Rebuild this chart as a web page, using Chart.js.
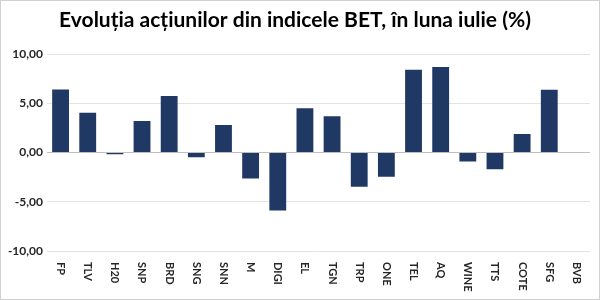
<!DOCTYPE html>
<html>
<head>
<meta charset="utf-8">
<script src="https://cdn.jsdelivr.net/npm/chart.js@4"></script>
<style>
  body { margin: 0; background: #fff; }
  #wrap { width: 600px; height: 300px; }
</style>
</head>
<body>
<div id="wrap"><canvas id="myChart"></canvas></div>
<script>
const categories = ['FP', 'TLV', 'H20', 'SNP', 'BRD', 'SNG', 'SNN', 'M', 'DIGI', 'EL',
    'TGN', 'TRP', 'ONE', 'TEL', 'AQ', 'WINE', 'TTS', 'COTE', 'SFG', 'BVB'];
const changes = [6.40, 4.06, -0.16, 3.20, 5.75, -0.47, 2.80, -2.64, -5.88, 4.50,
    3.69, -3.48, -2.46, 8.42, 8.69, -0.91, -1.69, 1.90, 6.39, 0];
const yTicks = [-10, -5, 0, 5, 10];

const fontFamily = 'Lato, "Liberation Sans", sans-serif';

// frame + white background
const framePlugin = {
    id: 'frame',
    beforeDraw(chart) {
        const ctx = chart.ctx;
        ctx.save();
        ctx.fillStyle = '#fff';
        ctx.fillRect(0, 0, chart.width, chart.height);
        ctx.strokeStyle = '#d0d0d0';
        ctx.lineWidth = 1;
        ctx.strokeRect(0.5, 0.5, chart.width - 1, chart.height - 1);
        ctx.restore();
    },
};

// category labels turned 90deg clockwise (read top to bottom)
const xLabelPlugin = {
    id: 'xLabels',
    afterDraw(chart) {
        const xs = chart.scales.x;
        const ctx = chart.ctx;
        ctx.save();
        ctx.font = 'bold 11px ' + fontFamily;
        ctx.fillStyle = '#262626';
        ctx.textAlign = 'left';
        ctx.textBaseline = 'middle';
        categories.forEach((c, i) => {
            ctx.save();
            ctx.translate(xs.getPixelForTick(i), xs.top + 11);
            ctx.rotate(Math.PI / 2);
            ctx.fillText(c, 0, 0);
            ctx.restore();
        });
        ctx.restore();
    },
};

const config = {
    type: 'bar',
    data: {
        labels: categories,
        datasets: [
            {
                data: changes,
                backgroundColor: '#1f3864',
                categoryPercentage: 1,
                barPercentage: 0.62,
            },
        ],
    },
    options: {
        responsive: true,
        maintainAspectRatio: false,
        animation: false,
        layout: { padding: { left: 0, right: 10, top: 0, bottom: 0 } },
        plugins: {
            legend: { display: false },
            tooltip: { enabled: false },
            title: {
                display: true,
                text: 'Evoluția acțiunilor din indicele BET, în luna iulie (%)',
                color: '#000',
                font: { family: fontFamily, size: 21, weight: 'bold' },
                padding: { top: 8, bottom: 21 },
            },
        },
        scales: {
            x: {
                grid: { display: false },
                border: { display: false },
                ticks: { display: false },
                afterFit(scale) { scale.height = 49; },
            },
            y: {
                min: -10,
                max: 10,
                afterBuildTicks(scale) { scale.ticks = yTicks.map(v => ({ value: v })); },
                border: { display: false },
                grid: {
                    drawTicks: false,
                    color: ctx => (ctx.tick && ctx.tick.value === 0 ? '#bfbfbf' : '#e3e3e3'),
                },
                ticks: {
                    padding: 4,
                    color: '#262626',
                    font: { family: fontFamily, size: 12, weight: 'bold' },
                    callback: v => v.toFixed(2).replace('.', ','),
                },
                afterFit(scale) { scale.width = 47; },
            },
        },
    },
    plugins: [framePlugin, xLabelPlugin],
};

var myChart = new Chart(document.getElementById('myChart'), config);
</script>
</body>
</html>
